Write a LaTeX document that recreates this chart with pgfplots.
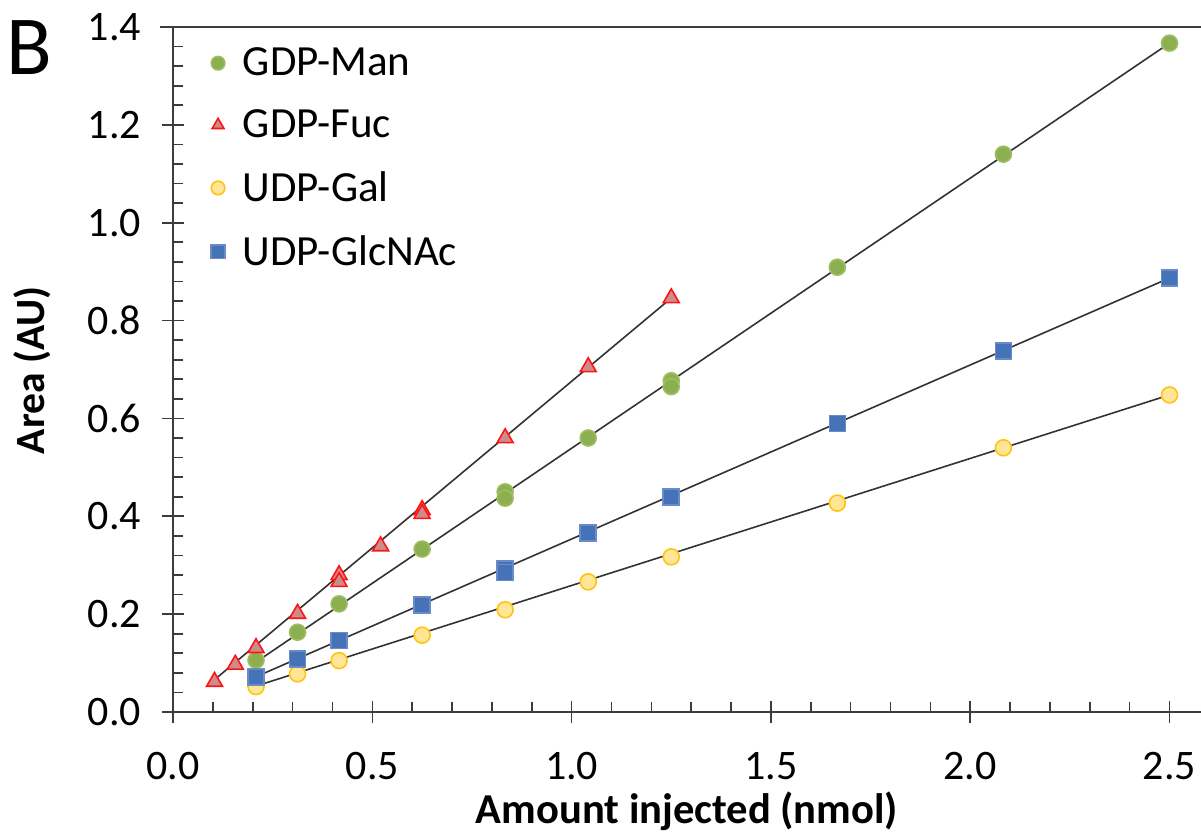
\documentclass[border=0pt]{standalone}
\usepackage{pgfplots}
\pgfplotsset{compat=1.18}
\usepackage{fontspec}
\setmainfont{Carlito}
\definecolor{gfill}{RGB}{140,176,80}
\definecolor{gdraw}{RGB}{158,190,100}
\definecolor{rfill}{RGB}{204,140,140}
\definecolor{rdraw}{RGB}{255,20,20}
\definecolor{yfill}{RGB}{255,230,150}
\definecolor{ydraw}{RGB}{255,195,20}
\definecolor{bfill}{RGB}{70,114,184}
\definecolor{bdraw}{RGB}{105,140,200}
\definecolor{axc}{RGB}{60,60,60}
\begin{document}
\begin{tikzpicture}
% minor ticks (inside)
\begin{axis}[
  at={(0,0)}, anchor=south west,
  scale only axis, width=514pt, height=342.5pt,
  xmin=0, xmax=2.579, ymin=0, ymax=1.4,
  axis x line*=bottom, axis y line*=left,
  axis line style={draw=none},
  xtick={0,0.5,1,1.5,2,2.5}, ytick={0,0.2,0.4,0.6,0.8,1.0,1.2,1.4},
  minor x tick num=4, minor y tick num=4,
  xticklabels={}, yticklabels={},
  tick align=inside, major tick length=0pt, minor tick length=5pt,
  every tick/.style={axc, line width=0.8pt},
]
\addplot[draw=none] coordinates {(0,0)};
\end{axis}
\begin{axis}[
  at={(0,0)}, anchor=south west,
  scale only axis, width=514pt, height=342.5pt,
  xmin=0, xmax=2.579, ymin=0, ymax=1.4,
  clip=false,
  axis x line*=bottom, axis y line*=left,
  axis line style={-, line width=0.9pt, axc},
  xtick={0,0.5,1,1.5,2,2.5}, ytick={0,0.2,0.4,0.6,0.8,1.0,1.2,1.4},
  tick align=center, major tick length=11pt,
  every tick/.style={axc, line width=0.8pt},
  minor tick num=0,
  xticklabel style={font=\fontsize{21}{25}\selectfont, yshift=-11pt},
  yticklabel style={font=\fontsize{21}{25}\selectfont, xshift=-7pt},
  /pgf/number format/.cd, fixed, fixed zerofill, precision=1, assume math mode=true,
  /pgfplots/.cd,
  xlabel={\textbf{Amount injected (nmol)}},
  ylabel={\textbf{Area (AU)}},
  xlabel style={font=\fontsize{21.3}{25}\selectfont, at={(axis description cs:0.5,-0.145)}, anchor=center},
  ylabel style={font=\fontsize{20.8}{25}\selectfont, at={(axis description cs:-0.137,0.499)}, anchor=center},
  legend cell align=left,
  legend image post style={mark size=3.4pt},
  legend style={draw=none, fill=none, at={(axis description cs:0.031,0.982)}, anchor=north west,
    font=\fontsize{21.5}{25}\selectfont, row sep=11.5pt,
    /tikz/every odd column/.append style={column sep=7pt}},
]
\addplot[only marks, mark=*, mark size=4pt, mark options={fill=gfill, draw=gdraw, line width=0.8pt}]
 coordinates {(0.2083,0.106)(0.3125,0.163)(0.4167,0.221)(0.625,0.333)(0.8333,0.450)(0.8333,0.437)(1.0417,0.560)(1.25,0.677)(1.25,0.665)(1.6667,0.909)(2.0833,1.140)(2.5,1.367)};
\addlegendentry{GDP-Man}
\addplot[only marks, mark=triangle*, mark size=4.6pt, mark options={fill=rfill, draw=rdraw, line width=0.8pt}]
 coordinates {(0.1042,0.062)(0.1563,0.097)(0.2083,0.131)(0.3125,0.201)(0.4167,0.280)(0.4167,0.266)(0.5208,0.339)(0.625,0.413)(0.625,0.405)(0.8333,0.560)(1.0417,0.705)(1.25,0.846)};
\addlegendentry{GDP-Fuc}
\addplot[only marks, mark=*, mark size=4pt, mark options={fill=yfill, draw=ydraw, line width=0.8pt}]
 coordinates {(0.2083,0.052)(0.3125,0.078)(0.4167,0.105)(0.625,0.157)(0.8333,0.209)(1.0417,0.266)(1.25,0.317)(1.6667,0.427)(2.0833,0.540)(2.5,0.648)};
\addlegendentry{UDP-Gal}
\addplot[only marks, mark=square*, mark size=4pt, mark options={fill=bfill, draw=bdraw, line width=0.8pt}]
 coordinates {(0.2083,0.071)(0.3125,0.108)(0.4167,0.146)(0.625,0.219)(0.8333,0.292)(0.8333,0.285)(1.0417,0.366)(1.25,0.440)(1.6667,0.590)(2.0833,0.738)(2.5,0.887)};
\addlegendentry{UDP-GlcNAc}
\addplot[forget plot, black!80, line width=0.8pt] coordinates {(0.2083,0.102)(2.5,1.367)};
\addplot[forget plot, black!80, line width=0.8pt] coordinates {(0.1042,0.066)(1.25,0.846)};
\addplot[forget plot, black!80, line width=0.8pt] coordinates {(0.2083,0.072)(2.5,0.887)};
\addplot[forget plot, black!80, line width=0.8pt] coordinates {(0.2083,0.053)(2.5,0.648)};
\draw[axc, line width=0.9pt] ([xshift=-6.5pt]rel axis cs:0,1) -- (rel axis cs:1,1);
\node[font=\fontsize{42}{46}\selectfont, anchor=center] at (rel axis cs:-0.140,0.970) {B};
\end{axis}
\pgfresetboundingbox
\useasboundingbox (-86.5pt,-61pt) rectangle (514pt,356pt);
\end{tikzpicture}
\end{document}
